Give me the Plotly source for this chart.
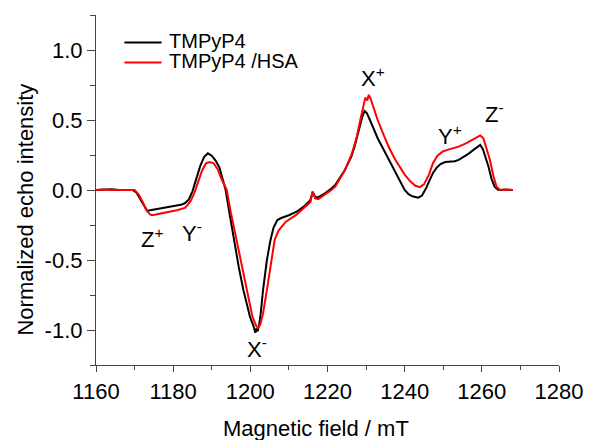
import plotly.graph_objects as go

# Field axis (mT) and normalized echo intensity for TMPyP4
field_free = [1160, 1162, 1164, 1166, 1168, 1169.5, 1170.5, 1171.5, 1172.5, 1173.3,
              1174, 1175, 1176, 1177, 1178, 1179, 1180, 1181, 1182, 1183,
              1184, 1185, 1186, 1187, 1188, 1189, 1190, 1191, 1192, 1193,
              1193.6, 1194.5, 1195.7, 1197, 1198.2, 1199.9, 1200.8, 1201.3, 1201.6, 1201.9,
              1202.3, 1202.7, 1203.3, 1204.3, 1205.2, 1206, 1207, 1208, 1210, 1212,
              1214, 1215.5, 1216.2, 1216.8, 1217.5, 1219, 1221, 1222, 1224.5, 1226.2,
              1227, 1228, 1229, 1229.6, 1230.2, 1231, 1232, 1233, 1234.6, 1236,
              1237.5, 1238.9, 1240, 1241, 1242, 1243.5, 1244.5, 1245.5, 1246.5, 1247.3,
              1248.3, 1249.3, 1250.5, 1252, 1253, 1254, 1255.5, 1256.6, 1258, 1259,
              1259.6, 1260.3, 1261, 1261.7, 1262.5, 1263.3, 1264.2, 1265, 1266, 1267, 1268]
echo_free = [0, 0.003, 0.005, 0, 0.003, 0, -0.02, -0.07, -0.12, -0.15,
             -0.145, -0.14, -0.138, -0.13, -0.128, -0.12, -0.118, -0.11, -0.106, -0.095,
             -0.07, -0.01, 0.08, 0.17, 0.235, 0.262, 0.245, 0.21, 0.16, 0.06,
             0.0, -0.15, -0.357, -0.55, -0.714, -0.905, -0.97, -1.02, -0.99, -1.01,
             -0.96, -0.88, -0.714, -0.5, -0.36, -0.27, -0.215, -0.2, -0.18, -0.155,
             -0.115, -0.075, -0.015, -0.05, -0.052, -0.03, 0.01, 0.036, 0.143, 0.24,
             0.31, 0.42, 0.52, 0.565, 0.55, 0.5, 0.43, 0.37, 0.286, 0.21,
             0.13, 0.048, 0.0, -0.03, -0.045, -0.055, -0.04, 0.01, 0.07, 0.12,
             0.16, 0.185, 0.2, 0.205, 0.205, 0.215, 0.24, 0.26, 0.29, 0.31,
             0.322, 0.29, 0.23, 0.17, 0.08, 0.024, 0.002, 0.0, 0.003, 0.0, 0.0]

# Field axis (mT) and normalized echo intensity for TMPyP4 bound to HSA
field_hsa = [1160, 1162, 1164, 1166, 1168, 1170, 1171, 1172, 1173, 1174,
             1174.5, 1175.5, 1177, 1179, 1181, 1183, 1183.5, 1184.5, 1185.5, 1186.5,
             1187.5, 1188.5, 1189.4, 1190.5, 1191.5, 1192.5, 1193.9, 1194.8, 1196.4, 1197.8,
             1199.1, 1200.5, 1201.5, 1202, 1202.6, 1203.3, 1204.3, 1205.3, 1206.3, 1207.3,
             1208.4, 1209.2, 1211.8, 1214.3, 1215.6, 1216.1, 1216.8, 1217.6, 1219, 1221,
             1222, 1224.5, 1226.2, 1227.5, 1228.5, 1229.3, 1229.8, 1230.3, 1230.7, 1231.2,
             1232, 1233, 1234.6, 1236, 1237.5, 1238.9, 1240, 1241.5, 1242.8, 1243.9,
             1245, 1246.3, 1247.3, 1248.5, 1249.8, 1251.5, 1253, 1254, 1256, 1257.5,
             1259, 1259.6, 1260.4, 1261.2, 1262.1, 1263, 1263.8, 1264.6, 1266, 1268]
echo_hsa = [0, 0.003, 0, 0.002, 0, 0, -0.03, -0.08, -0.14, -0.175,
            -0.18, -0.175, -0.165, -0.155, -0.145, -0.128, -0.115, -0.08, -0.02, 0.06,
            0.14, 0.19, 0.2, 0.19, 0.15, 0.08, 0.0, -0.14, -0.357, -0.55,
            -0.714, -0.9, -0.97, -0.985, -0.96, -0.88, -0.714, -0.52, -0.357, -0.29,
            -0.25, -0.226, -0.18, -0.12, -0.085, -0.01, -0.06, -0.065, -0.04, 0.0,
            0.024, 0.14, 0.25, 0.37, 0.5, 0.6, 0.66, 0.64, 0.68, 0.65,
            0.58, 0.5, 0.39, 0.3, 0.22, 0.157, 0.11, 0.06, 0.03, 0.02,
            0.04, 0.11, 0.19, 0.245, 0.274, 0.29, 0.3, 0.31, 0.335, 0.357,
            0.385, 0.39, 0.37, 0.3, 0.214, 0.1, 0.024, 0.003, 0.0, 0.0]

series_names = ["TMPyP4", "TMPyP4 /HSA"]
series_colors = ["#000000", "#ff0000"]

# Transition labels: text, field position (left edge), intensity position
peak_labels = ["Z<sup>+</sup>", "Y<sup>-</sup>", "X<sup>-</sup>", "X<sup>+</sup>", "Y<sup>+</sup>", "Z<sup>-</sup>"]
peak_fields = [1171.2, 1181.7, 1198.7, 1228.2, 1248.1, 1260.3]
peak_levels = [-0.34, -0.30, -1.13, 0.81, 0.39, 0.55]

x_ticks = [1160, 1180, 1200, 1220, 1240, 1260, 1280]
y_ticks = [-1.0, -0.5, 0.0, 0.5, 1.0]

TEXT_FONT = "Liberation Sans, Arial, sans-serif"
TICK_FONT = "Liberation Sans, Arial, sans-serif"

fig = go.Figure()
for xs, ys, name, color in [(field_free, echo_free, series_names[0], series_colors[0]),
                            (field_hsa, echo_hsa, series_names[1], series_colors[1])]:
    fig.add_trace(go.Scatter(x=xs, y=ys, mode="lines", name=name,
                             line=dict(color=color, width=2)))

for txt, fx, fy in zip(peak_labels, peak_fields, peak_levels):
    fig.add_annotation(x=fx, y=fy, xref="x", yref="y", text=txt, showarrow=False,
                       xanchor="left", yanchor="middle",
                       font=dict(family=TEXT_FONT, size=22, color="#000"))

# Legend drawn as sample strokes with labels
W, H = 595, 440
ml, mr, mt, mb = 96, 26, 15, 75
pw, ph = W - ml - mr, H - mt - mb


def px_to_paper(px, py):
    return (px - ml) / pw, (H - mb - py) / ph


for i, (name, color) in enumerate(zip(series_names, series_colors)):
    ly = 42.5 + 20 * i
    x0, y0 = px_to_paper(125, ly)
    x1, _ = px_to_paper(163, ly)
    fig.add_shape(type="line", xref="paper", yref="paper", x0=x0, x1=x1, y0=y0, y1=y0,
                  line=dict(color=color, width=2))
    tx, ty = px_to_paper(169, ly - 2)
    fig.add_annotation(x=tx, y=ty, xref="paper", yref="paper", text=name, showarrow=False,
                       xanchor="left", yanchor="middle",
                       font=dict(family=TEXT_FONT, size=20, color="#000"))

# Axis titles
tx, ty = px_to_paper(321, 428)
fig.add_annotation(x=tx, y=ty, xref="paper", yref="paper", text="Magnetic field / mT",
                   showarrow=False, xanchor="center", yanchor="middle",
                   font=dict(family=TEXT_FONT, size=22, color="#000"))
tx, ty = px_to_paper(23, 210)
fig.add_annotation(x=tx, y=ty, xref="paper", yref="paper", text="Normalized echo intensity",
                   showarrow=False, xanchor="center", yanchor="middle", textangle=-90,
                   font=dict(family=TEXT_FONT, size=22, color="#000"))

axis_common = dict(showgrid=False, zeroline=False, showline=True, linecolor="#444",
                   linewidth=1.2, ticks="outside", tickcolor="#444", tickwidth=1.2,
                   tickfont=dict(family=TICK_FONT, size=22, color="#000"), mirror=False)

fig.update_xaxes(range=[1160, 1280], tickvals=x_ticks, ticktext=[str(v) for v in x_ticks],
                 ticklen=6,
                 minor=dict(dtick=10, tick0=1160, ticks="outside", ticklen=4,
                            tickcolor="#444", tickwidth=1.2),
                 **axis_common)
fig.update_yaxes(range=[-1.25, 1.25], tickvals=y_ticks, ticktext=[f"{v:.1f}" for v in y_ticks],
                 ticklen=8,
                 minor=dict(dtick=0.25, tick0=0, ticks="outside", ticklen=5,
                            tickcolor="#444", tickwidth=1.2),
                 **axis_common)

fig.update_layout(width=W, height=H, margin=dict(l=ml, r=mr, t=mt, b=mb),
                  paper_bgcolor="white", plot_bgcolor="white", showlegend=False)

fig.write_html("out.html")
